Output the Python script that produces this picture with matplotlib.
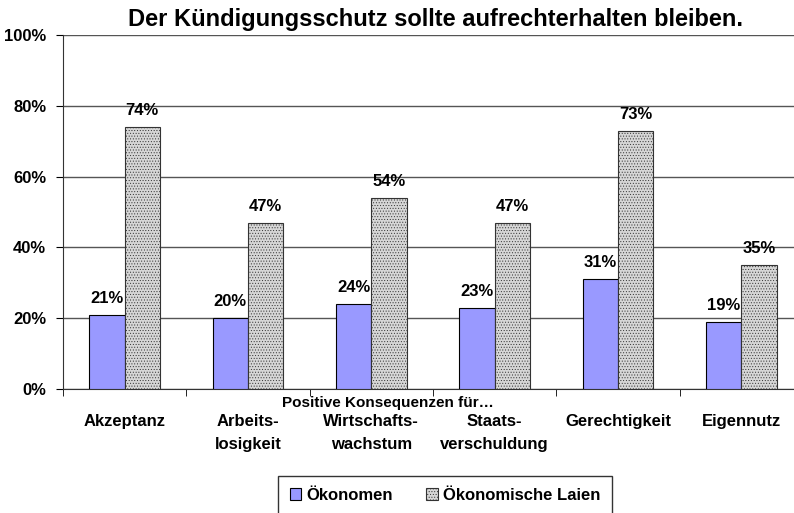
import numpy as np
import matplotlib.pyplot as plt

categories = ['Akzeptanz', 'Arbeits-\nlosigkeit', 'Wirtschafts-\nwachstum', 'Staats-\nverschuldung',
              'Gerechtigkeit', 'Eigennutz']
oekonomen = [21, 20, 24, 23, 31, 19]
laien = [74, 47, 54, 47, 73, 35]

plt.rcParams['font.family'] = ['Liberation Sans', 'DejaVu Sans']
plt.rcParams['font.weight'] = 'bold'
plt.rcParams['hatch.color'] = '#8a8a8a'
plt.rcParams['hatch.linewidth'] = 0.4

fig = plt.figure(figsize=(7.94, 5.13), dpi=100)
# axes run a little past the right edge of the picture, as in the original
ax = fig.add_axes([63 / 794, 1 - 389 / 513, 740 / 794, 354 / 513])

x = np.arange(len(categories))
w = 0.287
ax.bar(x - w / 2, oekonomen, w, color='#9999ff', edgecolor='black', linewidth=0.8, label='Ökonomen', zorder=3)
ax.bar(x + w / 2, laien, w, color='#d6d6d6', edgecolor='#333333', linewidth=0.8, hatch='......',
       label='Ökonomische Laien', zorder=3)

for i in range(len(categories)):
    ax.text(x[i] - w / 2, oekonomen[i] + 2.5, f'{oekonomen[i]}%', ha='center', va='bottom',
            fontsize=12, fontweight='bold', zorder=4)
    ax.text(x[i] + w / 2, laien[i] + 2.5, f'{laien[i]}%', ha='center', va='bottom',
            fontsize=12, fontweight='bold', zorder=4)

ax.set_xlim(-0.5, len(categories) - 0.5)
ax.set_ylim(0, 100)
ax.set_yticks(range(0, 101, 20))
ax.set_yticklabels([f'{v}%' for v in range(0, 101, 20)], fontsize=12, fontweight='bold')
ax.yaxis.grid(True, color='#555555', linewidth=1.0, zorder=0)
ax.set_axisbelow(True)

ax.set_xticks(x)
ax.set_xticklabels(categories, fontsize=12, fontweight='bold', va='top', linespacing=1.7)
ax.tick_params(axis='x', length=0, pad=18)
ax.set_xticks(np.arange(-0.5, len(categories)), minor=True)
ax.tick_params(axis='x', which='minor', length=5, direction='out', color='black')
ax.tick_params(axis='y', length=5, direction='out', color='black', pad=7)

for s in ['top', 'right']:
    ax.spines[s].set_visible(False)
ax.spines['left'].set_color('#333333')
ax.spines['bottom'].set_color('#333333')

fig.text(0.549, 0.962, 'Der Kündigungsschutz sollte aufrechterhalten bleiben.', ha='center', va='center',
         fontsize=17, fontweight='bold')
fig.text(0.488, 0.215, 'Positive Konsequenzen für…', ha='center', va='center', fontsize=11, fontweight='bold')

leg = fig.legend(loc='upper left', bbox_to_anchor=(278 / 794, 1 - 476 / 513), ncol=2, fontsize=12, frameon=True,
                 fancybox=False, edgecolor='black', handlelength=0.7, handleheight=0.7,
                 columnspacing=2.0, handletextpad=0.3, borderpad=0.7, borderaxespad=0)
leg.get_frame().set_linewidth(1.0)

fig.savefig('out.png', dpi=100)
